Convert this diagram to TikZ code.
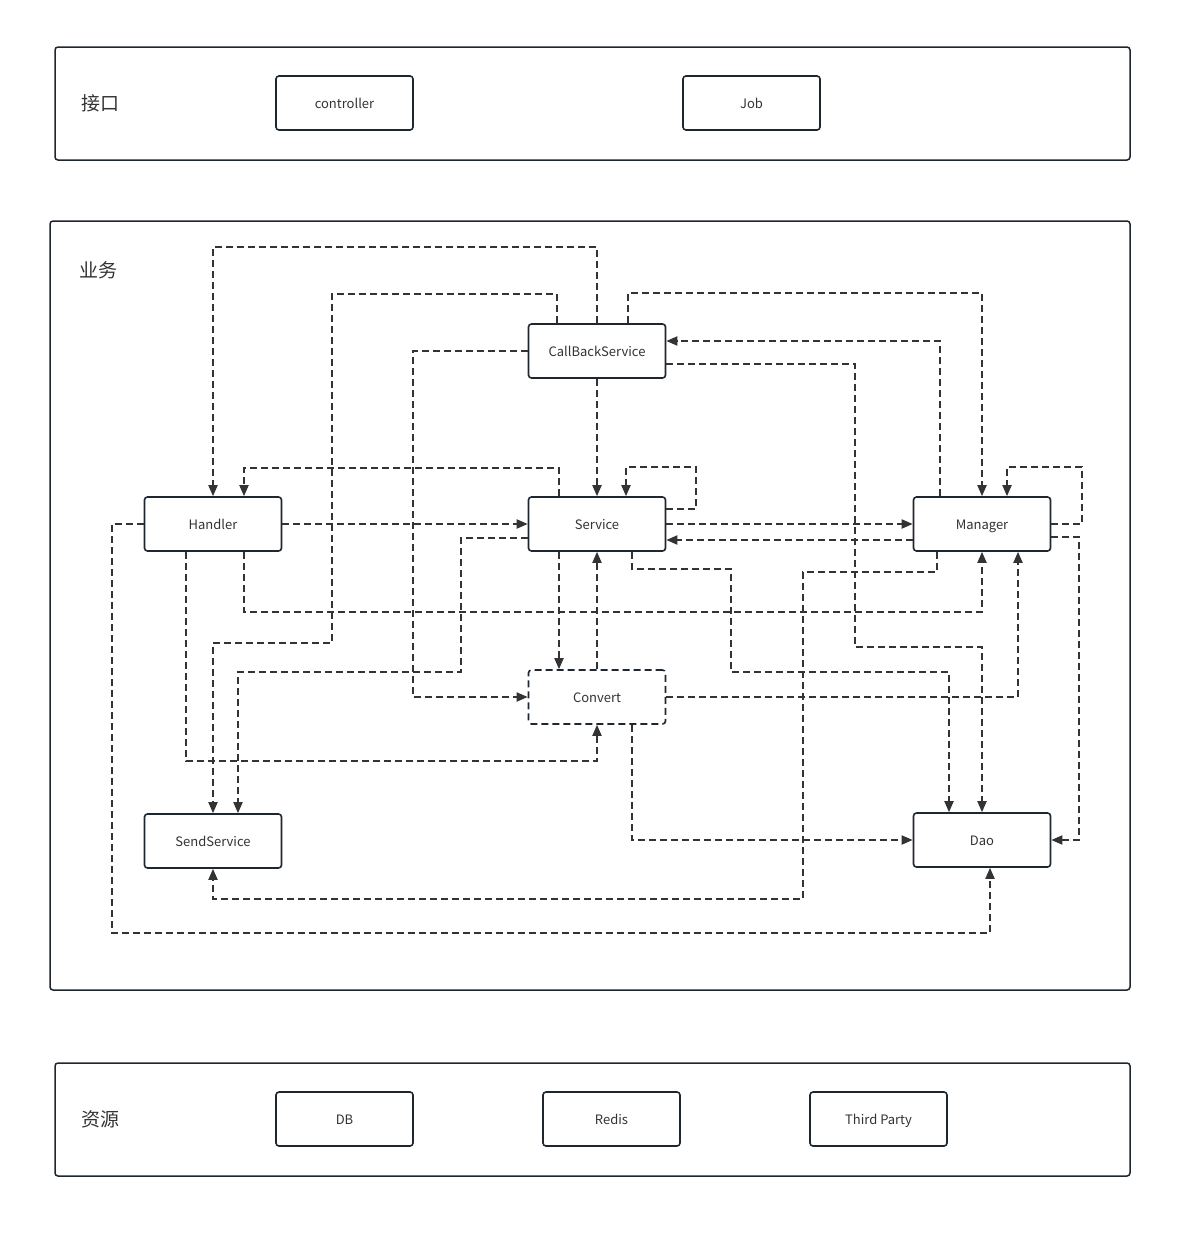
\documentclass[tikz,border=0pt]{standalone}
\usepackage{fontspec}
\setmainfont{Noto Sans CJK SC}
\usetikzlibrary{arrows.meta,positioning,calc}
\definecolor{boxDark}{RGB}{30,38,48}
\definecolor{lineGray}{RGB}{51,51,51}
\definecolor{textGray}{RGB}{51,51,51}
\tikzset{
  panel/.style={draw=boxDark, line width=1.5pt, rounded corners=3pt},
  lane/.style={text=textGray, font=\fontsize{19}{22}\selectfont},
  comp/.style={draw=boxDark, line width=1.6pt, rounded corners=3pt, fill=white, text=textGray, minimum width=137pt, minimum height=54pt, inner sep=0pt, text height=11.5pt, text depth=1pt, font=\fontsize{13}{15}\selectfont},
  compdash/.style={comp, dash pattern=on 7pt off 4pt},
  link/.style={-{Triangle[length=11pt,width=9pt]}, line width=1.8pt, dash pattern=on 7pt off 4pt, draw=lineGray}
}

\begin{document}
\begin{tikzpicture}[x=1pt,y=-1pt]
  \useasboundingbox (0,0) rectangle (1193,1237);

  % Layer panels
  \draw[panel] (55,47) rectangle (1130,160);
  \draw[panel] (50,221) rectangle (1130,990);
  \draw[panel] (55,1063) rectangle (1130,1176);
  \node[lane] (lapi) at (100,103) {接口};
  \node[lane] (lbiz) at (98,270) {业务};
  \node[lane] (lres) at (100,1119) {资源};

  % Interface layer
  \node[comp] (ctrl) at (344.5,103) {controller};
  \node[comp] (job) at (751.5,103) {Job};

  % Business layer
  \node[comp] (cbs) at (597,351) {CallBackService};
  \node[comp] (hdl) at (213,524) {Handler};
  \node[comp] (svc) at (597,524) {Service};
  \node[comp] (mgr) at (982,524) {Manager};
  \node[compdash] (cvt) at (597,697) {Convert};
  \node[comp] (snd) at (213,841) {SendService};
  \node[comp] (dao) at (982,840) {Dao};

  % Resource layer
  \node[comp] (db) at (344.5,1119) {DB};
  \node[comp] (redis) at (611.5,1119) {Redis};
  \node[comp] (third) at (878.5,1119) {Third Party};

  % Straight links
  \draw[link] (cbs.south) -- (svc.north);
  \draw[link] (hdl.east) -- (svc.west);
  \draw[link] (svc.east) -- (mgr.west);
  \draw[link] ([yshift=-16pt]mgr.west) -- ([yshift=-16pt]svc.east);
  \draw[link] ([xshift=-38pt]svc.south) -- ([xshift=-38pt]cvt.north);
  \draw[link] (cvt.north) -- (svc.south);

  % Routed links from CallBackService
  \draw[link] (cbs.north) -- ++(0,-76) -| (hdl.north);
  \draw[link] ([xshift=-40pt]cbs.north) -- ++(0,-29) -- ++(-225,0) -- ++(0,349) -| (snd.north);
  \draw[link] (cbs.west) -- ++(-115,0) |- (cvt.west);
  \draw[link] ([xshift=31pt]cbs.north) -- ++(0,-30) -| (mgr.north);
  \draw[link] ([yshift=-13pt]cbs.east) -- ++(189,0) -- ++(0,283) -| (dao.north);

  % Routed links from Service
  \draw[link] ([xshift=-38pt]svc.north) -- ++(0,-28) -| ([xshift=31pt]hdl.north);
  \draw[link] ([yshift=15pt]svc.east) -- ++(30,0) -- ++(0,-42) -| ([xshift=29pt]svc.north);
  \draw[link] ([yshift=-14pt]svc.west) -- ++(-67,0) -- ++(0,134) -| ([xshift=25pt]snd.north);
  \draw[link] ([xshift=35pt]svc.south) -- ++(0,17) -- ++(99,0) -- ++(0,103) -| ([xshift=-33pt]dao.north);

  % Routed links from Handler
  \draw[link] ([xshift=31pt]hdl.south) -- ++(0,60) -| (mgr.south);
  \draw[link] ([xshift=-27pt]hdl.south) -- ++(0,209) -| (cvt.south);
  \draw[link] (hdl.west) -- ++(-32,0) -- ++(0,409) -| ([xshift=8pt]dao.south);

  % Routed links from Manager
  \draw[link] ([xshift=-42pt]mgr.north) |- ([yshift=10pt]cbs.east);
  \draw[link] ([xshift=-45pt]mgr.south) -- ++(0,20) -- ++(-134,0) -- ++(0,327) -| (snd.south);
  \draw[link] (mgr.east) -- ++(31,0) -- ++(0,-57) -| ([xshift=25pt]mgr.north);
  \draw[link] ([yshift=-13pt]mgr.east) -- ++(28,0) |- (dao.east);

  % Routed links from Convert
  \draw[link] (cvt.east) -| ([xshift=36pt]mgr.south);
  \draw[link] ([xshift=35pt]cvt.south) |- (dao.west);
\end{tikzpicture}
\end{document}
